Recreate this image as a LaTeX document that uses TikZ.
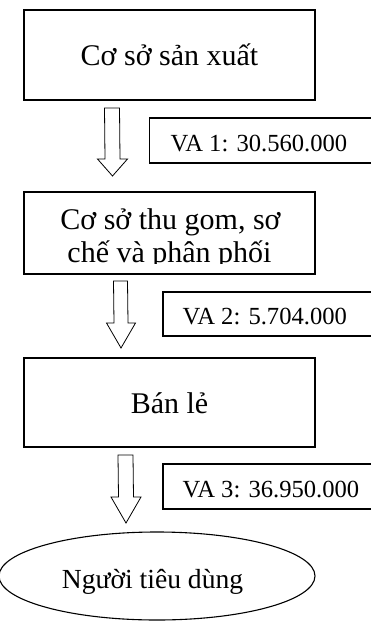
\documentclass[tikz,border=0pt]{standalone}
\usepackage{fontspec}
\setmainfont{Liberation Serif}
\usetikzlibrary{calc}

\tikzset{
  stage/.style={draw, line width=1.1pt, inner sep=0pt},
  valbox/.style={draw, line width=1.1pt},
  bigtext/.style={font=\fontsize{30}{32.5}\selectfont, inner sep=0pt, anchor=base},
  endtext/.style={font=\fontsize{27.6}{30}\selectfont, inner sep=0pt, anchor=base},
  valtext/.style={font=\fontsize{24.6}{26}\selectfont, inner sep=0pt, anchor=base west},
  hollow/.style={draw, line width=0.8pt, line join=miter, fill=white}
}

% hollow down arrow: #1 top centre, #2 tip, #3 shaft half width,
% #4 head half width, #5 head length
\newcommand{\hollowarrow}[5]{%
  \draw[hollow]
    ($(#1)+(-#3,0)$) -- ($(#1)+(#3,0)$) -- ($(#2)+(#3,-#5)$)
    -- ($(#2)+(#4,-#5)$) -- (#2) -- ($(#2)+(-#4,-#5)$)
    -- ($(#2)+(-#3,-#5)$) -- cycle;}

\begin{document}
\begin{tikzpicture}[x=1pt, y=-1pt]
  \useasboundingbox (0,0) rectangle (371,621);
  \clip (0,0) rectangle (371,621);

  % stage boxes
  \draw[stage] (24,10) rectangle (315,100);
  \node[bigtext] (b1t) at (169.5,65) {Cơ sở sản xuất};

  \draw[stage] (24,192) rectangle (315,274);
  \begin{scope}
    \clip (24,192) rectangle (315,263.5);
    \node[bigtext] (b2a) at (170.5,229.5) {Cơ sở thu gom, sơ};
    \node[bigtext] (b2b) at (169.5,262) {chế và phân phối};
  \end{scope}

  \draw[stage] (24,358) rectangle (315,447);
  \node[bigtext] (b3t) at (169.5,413.5) {Bán lẻ};

  % consumer ellipse
  \draw[line width=1.1pt] (157,576) ellipse [x radius=158, y radius=44];
  \node[endtext] (cons) at (152.5,588) {Người tiêu dùng};

  % value-added labels
  \draw[valbox] (149.5,118) rectangle (380,163);
  \node[valtext] (va1) at (170.5,151) {VA 1: 30.560.000};
  \draw[valbox] (163,292) rectangle (380,336);
  \node[valtext] (va2) at (182.5,324) {VA 2: 5.704.000};
  \draw[valbox] (163,464) rectangle (380,509);
  \node[valtext] (va3) at (182.5,497) {VA 3: 36.950.000};

  % flow arrows between stages
  \coordinate (a1s) at (112,108);  \coordinate (a1e) at (112.5,176);
  \coordinate (a2s) at (120.5,281); \coordinate (a2e) at (121,348);
  \coordinate (a3s) at (125.5,455); \coordinate (a3e) at (126,523);
  \hollowarrow{a1s}{a1e}{7.5}{15}{17}
  \hollowarrow{a2s}{a2e}{7}{14.5}{25}
  \hollowarrow{a3s}{a3e}{7.5}{15}{26}
\end{tikzpicture}
\end{document}
